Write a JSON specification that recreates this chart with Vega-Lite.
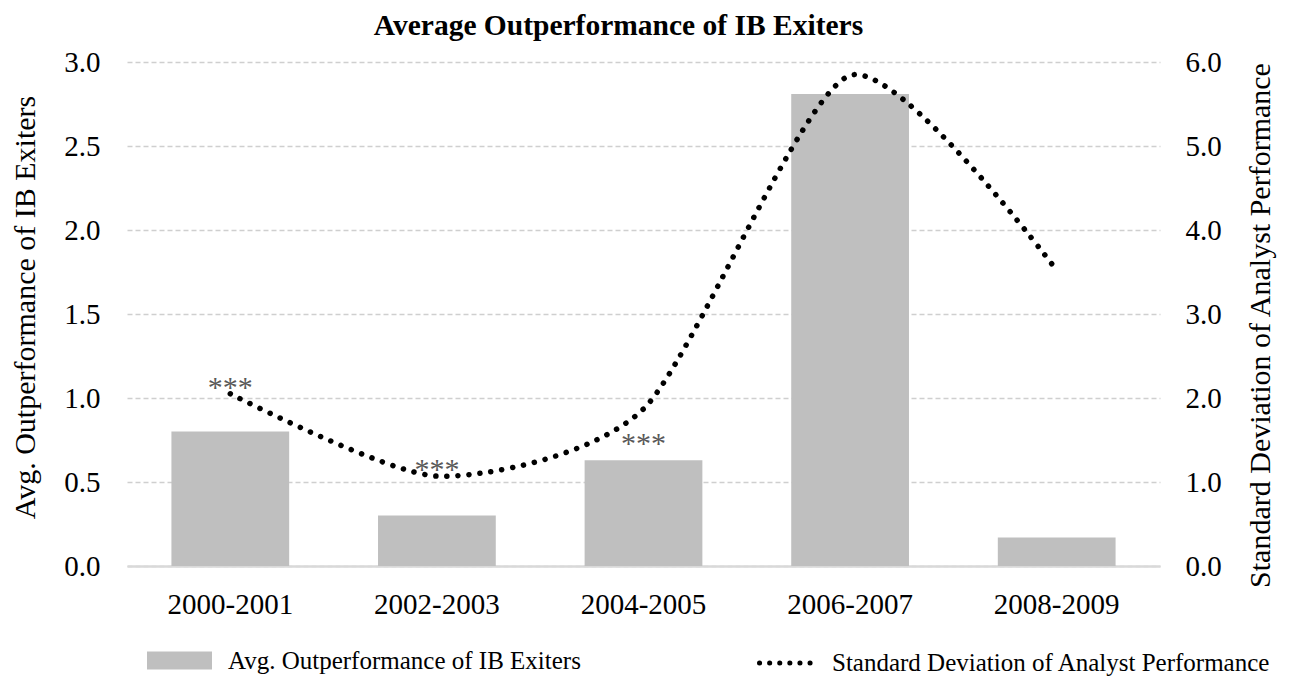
{
  "$schema": "https://vega.github.io/schema/vega-lite/v6.json",
  "width": 1033,
  "height": 504,
  "autosize": {"type": "none"},
  "padding": {"left": 127, "top": 62, "right": 131, "bottom": 126},
  "background": "white",
  "title": {
    "text": "Average Outperformance of IB Exiters",
    "font": "Liberation Serif",
    "fontSize": 29.5,
    "fontWeight": "bold",
    "color": "black",
    "anchor": "middle",
    "frame": "group",
    "offset": 7,
    "dx": -25
  },
  "data": {
    "values": [
      {"period": "2000-2001", "outperf": 0.80, "sd": 2.05, "sig_sd": "***"},
      {"period": "2002-2003", "outperf": 0.30, "sd": 1.07, "sig_sd": "***"},
      {"period": "2004-2005", "outperf": 0.63, "sd": 1.87, "sig_bar": "***"},
      {"period": "2006-2007", "outperf": 2.81, "sd": 5.84},
      {"period": "2008-2009", "outperf": 0.17, "sd": 3.52}
    ]
  },
  "config": {
    "view": {"stroke": null},
    "font": "Liberation Serif",
    "axis": {
      "labelFont": "Liberation Serif",
      "titleFont": "Liberation Serif",
      "labelColor": "black",
      "titleColor": "black",
      "labelFontSize": 28,
      "titleFontSize": 30,
      "titleFontWeight": "normal",
      "ticks": false
    },
    "legend": {
      "labelFont": "Liberation Serif",
      "labelFontSize": 25,
      "labelColor": "black",
      "labelLimit": 0,
      "padding": 0
    }
  },
  "encoding": {
    "x": {
      "field": "period",
      "type": "nominal",
      "sort": null,
      "scale": {"paddingInner": 0.43, "paddingOuter": 0.215},
      "axis": {
        "title": null,
        "labelAngle": 0,
        "labelPadding": 24,
        "labelFontSize": 29,
        "domainColor": "#d9d9d9",
        "domainWidth": 2.5,
        "grid": false
      }
    }
  },
  "layer": [
    {
      "layer": [
        {
          "mark": {"type": "bar", "color": "#bfbfbf"},
          "encoding": {
            "y": {
              "field": "outperf",
              "type": "quantitative",
              "scale": {"domain": [0, 3], "nice": false, "zero": true},
              "axis": {
                "orient": "left",
                "title": "Avg. Outperformance of IB Exiters",
                "values": [0, 0.5, 1, 1.5, 2, 2.5, 3],
                "format": ".1f",
                "grid": true,
                "gridDash": [5, 3],
                "gridColor": "#cfcfcf",
                "gridWidth": 1.3,
                "domain": false,
                "labelPadding": 27,
                "labelFontSize": 29,
                "titlePadding": 23,
                "titleY": 245
              }
            },
            "fill": {
              "datum": "Avg. Outperformance of IB Exiters",
              "type": "nominal",
              "scale": {"range": ["#bfbfbf"]},
              "legend": {
                "title": null,
                "orient": "none",
                "legendX": 20,
                "legendY": 566,
                "symbolType": "M-1,-0.28H1V0.28H-1Z",
                "symbolSize": 4225,
                "symbolStrokeWidth": 0,
                "labelOffset": 16
              }
            }
          }
        },
        {
          "transform": [{"filter": "datum.sig_bar != null"}],
          "mark": {"type": "text", "fontSize": 30, "color": "#595959", "baseline": "alphabetic", "align": "center", "dy": -7},
          "encoding": {
            "y": {"field": "outperf", "type": "quantitative"},
            "text": {"field": "sig_bar", "type": "nominal"}
          }
        }
      ]
    },
    {
      "layer": [
        {
          "mark": {
            "type": "line",
            "interpolate": "cardinal",
            "tension": 0.3,
            "strokeWidth": 5.5,
            "strokeDash": [0.1, 11],
            "strokeCap": "round"
          },
          "encoding": {
            "y": {
              "field": "sd",
              "type": "quantitative",
              "scale": {"domain": [0, 6], "nice": false, "zero": true},
              "axis": {
                "orient": "right",
                "title": "Standard Deviation of Analyst Performance",
                "titleAngle": -90,
                "values": [0, 1, 2, 3, 4, 5, 6],
                "format": ".1f",
                "grid": false,
                "domain": false,
                "labelPadding": 25,
                "labelFontSize": 29,
                "titlePadding": 54,
                "titleY": 263
              }
            },
            "stroke": {
              "datum": "Standard Deviation of Analyst Performance",
              "type": "nominal",
              "scale": {"range": ["black"]},
              "legend": {
                "title": null,
                "orient": "none",
                "legendX": 630,
                "legendY": 570,
                "symbolType": "stroke",
                "symbolSize": 3249,
                "symbolStrokeWidth": 5,
                "symbolDash": [0.1, 10],
                "labelOffset": 13,
                "encode": {"symbols": {"update": {"strokeCap": {"value": "round"}}}}
              }
            }
          }
        },
        {
          "transform": [{"filter": "datum.sig_sd != null"}],
          "mark": {"type": "text", "fontSize": 30, "color": "#595959", "baseline": "alphabetic", "align": "center", "dy": 3},
          "encoding": {
            "y": {"field": "sd", "type": "quantitative"},
            "text": {"field": "sig_sd", "type": "nominal"}
          }
        }
      ]
    }
  ],
  "resolve": {"scale": {"y": "independent"}}
}
